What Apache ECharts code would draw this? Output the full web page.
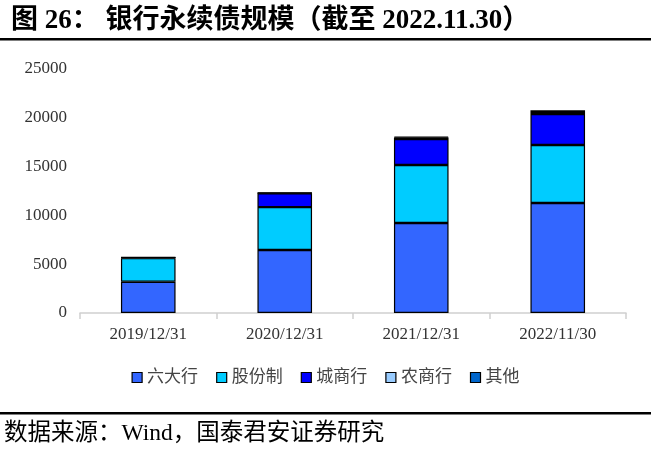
<!DOCTYPE html>
<html lang="zh">
<head>
  <meta charset="UTF-8">
  <title>银行永续债规模</title>
  <script src="https://cdn.jsdelivr.net/npm/echarts@6/dist/echarts.min.js"></script>
  <style>
    html, body { margin: 0; padding: 0; background: #fff; }
  </style>
</head>
<body>
  <div id="chart" style="width:651px;height:452px;"></div>
  <script>
    var categories = ['2019/12/31', '2020/12/31', '2021/12/31', '2022/11/30'];
    var bigSix = [3200, 6450, 9220, 11270];
    var jointStock = [2420, 4400, 5950, 5940];
    var cityBanks = [60, 1420, 2650, 3180];
    var ruralBanks = [10, 30, 150, 200];
    var others = [20, 30, 80, 180];
    var yTicks = [0, 5000, 10000, 15000, 20000, 25000];

    var font = '"Liberation Serif", "Noto Sans CJK SC", serif';
    var names = ['六大行', '股份制', '城商行', '农商行', '其他'];
    var colors = ['#3366FF', '#00CCFF', '#0000FF', '#99CCFF', '#0066CC'];
    var values = [bigSix, jointStock, cityBanks, ruralBanks, others];

    var myChart = echarts.init(document.getElementById('chart'));
    var series = names.map(function (n, i) {
      return {
        name: n,
        type: 'bar',
        stack: 'total',
        barWidth: '40%',
        data: values[i],
        itemStyle: { color: colors[i], borderColor: '#000', borderWidth: 1.2 }
      };
    });

    var option = {
      animation: false,
      title: {
        text: '图 26： 银行永续债规模（截至 2022.11.30）',
        left: 6,
        top: 3,
        textStyle: { fontFamily: font, fontSize: 27, fontWeight: 'bold', color: '#000' }
      },
      graphic: [
        { type: 'rect', shape: { x: 0, y: 38, width: 651, height: 2.5 }, style: { fill: '#000' } },
        { type: 'rect', shape: { x: 0, y: 412, width: 651, height: 2.5 }, style: { fill: '#000' } },
        {
          type: 'text', left: 4, top: 422,
          style: { text: '数据来源：Wind，国泰君安证券研究', font: '23.5px ' + font, fill: '#000' }
        }
      ],
      color: colors,
      legend: {
        data: names,
        bottom: 61,
        left: 'center',
        itemWidth: 10,
        itemHeight: 10,
        itemGap: 18,
        icon: 'rect',
        itemStyle: { borderColor: '#000', borderWidth: 1.2 },
        textStyle: { fontFamily: font, fontSize: 17, color: '#444' }
      },
      grid: { left: 80, right: 25, top: 69, bottom: 139 },
      xAxis: {
        type: 'category',
        data: categories,
        axisLine: { lineStyle: { color: '#d0d0d0', width: 1.5 } },
        axisTick: { show: true, length: 6, lineStyle: { color: '#d0d0d0', width: 1.5 } },
        axisLabel: { fontFamily: font, fontSize: 17, color: '#333', margin: 13 }
      },
      yAxis: {
        type: 'value',
        min: yTicks[0],
        max: yTicks[yTicks.length - 1],
        interval: 5000,
        splitLine: { show: false },
        axisLine: { show: false },
        axisTick: { show: false },
        axisLabel: {
          fontFamily: font, fontSize: 17, color: '#333', margin: 13,
          formatter: function (v) { return String(v); }
        }
      },
      series: series
    };
    myChart.setOption(option);
  </script>
</body>
</html>
